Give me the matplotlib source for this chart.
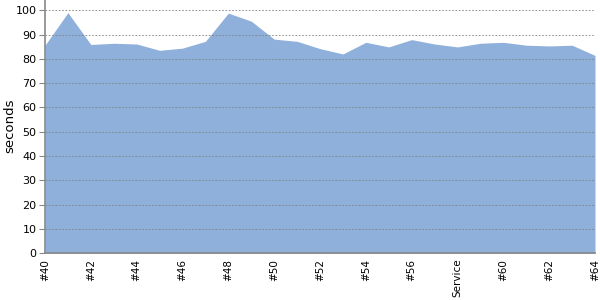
import matplotlib
matplotlib.use("Agg")
import matplotlib.pyplot as plt
import numpy as np

categories = ["#40", "#41", "#42", "#43", "#44", "#45", "#46", "#47", "#48", "#49",
              "#50", "#51", "#52", "#53", "#54", "#55", "#56", "#57", "Service", "#59",
              "#60", "#61", "#62", "#63", "#64"]
values = [85.6, 99.0, 85.9, 86.4, 86.1, 83.5, 84.4, 87.2, 98.8, 95.5,
          88.1, 87.2, 84.2, 82.0, 86.8, 84.9, 87.9, 86.1, 84.9, 86.4,
          86.8, 85.6, 85.3, 85.6, 81.4]
yticks = [0, 10, 20, 30, 40, 50, 60, 70, 80, 90, 100]

fig = plt.figure(figsize=(6, 3), dpi=100)
ax = fig.add_axes([45/600, 1 - 253.3/300, 550/600, 253.3/300])

x = np.arange(len(categories))
ax.fill_between(x, 0, values, color="#8EB0DA", linewidth=0, zorder=1)

ax.set_xlim(0, len(categories) - 1)
ax.set_ylim(0, 104.2)
ax.set_yticks(yticks)
ax.set_yticklabels([str(v) for v in yticks], fontsize=8)
ax.set_xticks(x[::2])
ax.set_xticklabels(categories[::2], rotation=90, fontsize=7.5)
ax.tick_params(axis="x", length=0, pad=4)
ax.tick_params(axis="y", length=4, width=0.8, color="#888888", pad=2)

for v in yticks[1:]:
    ax.axhline(v, color="#808080", linestyle=(0, (2, 2)), linewidth=0.6, zorder=2)

for s in ["top", "right"]:
    ax.spines[s].set_visible(False)
for s in ["left", "bottom"]:
    ax.spines[s].set_color("#888888")
    ax.spines[s].set_linewidth(1.2)
ax.spines["left"].set_zorder(3)
ax.spines["bottom"].set_zorder(3)

fig.text(10/600, 1 - 126/300, "seconds", rotation=90, fontsize=9.5,
         ha="center", va="center")

fig.savefig("out.png", dpi=100)
